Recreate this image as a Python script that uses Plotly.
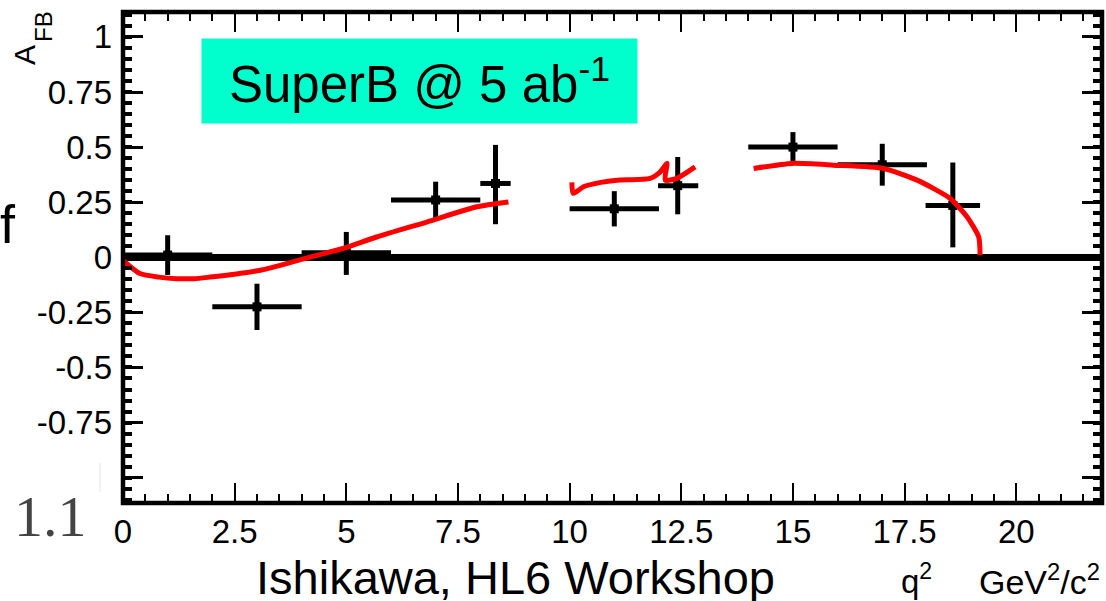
import plotly.graph_objects as go

# ---------------- data ----------------
q2_center = [1.0, 3.0, 5.0, 7.0, 8.34, 11.0, 12.42, 15.0, 17.0, 18.58]
q2_err_minus = [1.0, 1.0, 1.0, 1.0, 0.34, 1.0, 0.44, 1.0, 1.0, 0.61]
q2_err_plus = [1.0, 1.0, 1.0, 1.0, 0.34, 1.0, 0.46, 1.0, 1.0, 0.61]
afb = [0.01, -0.225, 0.02, 0.26, 0.335, 0.22, 0.325, 0.50, 0.42, 0.235]
afb_err_plus = [0.09, 0.105, 0.095, 0.083, 0.175, 0.08, 0.13, 0.068, 0.095, 0.195]
afb_err_minus = [0.09, 0.105, 0.10, 0.083, 0.185, 0.08, 0.13, 0.068, 0.095, 0.19]

# SM prediction (red curve), three pieces
sm1_q2 = [0.0, 0.38, 0.8, 1.2, 1.6, 1.95, 2.5, 3.07, 3.6, 4.19, 4.93, 5.68, 6.8, 7.92, 8.63]
sm1_afb = [-0.014, -0.074, -0.09, -0.097, -0.097, -0.09, -0.077, -0.059, -0.032, 0.001, 0.04, 0.092, 0.16, 0.229, 0.251]
sm2_q2 = [10.05, 10.08, 10.31, 10.7, 11.06, 11.8, 12.03, 12.18, 12.14, 12.4, 12.81]
sm2_afb = [0.34, 0.29, 0.32, 0.34, 0.35, 0.358, 0.388, 0.426, 0.35, 0.358, 0.41]
sm3_q2 = [14.12, 14.98, 15.91, 17.03, 17.78, 18.52, 18.9, 19.16, 19.19]
sm3_afb = [0.403, 0.426, 0.418, 0.403, 0.35, 0.267, 0.183, 0.092, 0.009]

x_tickvals = [0, 2.5, 5, 7.5, 10, 12.5, 15, 17.5, 20]
x_ticktext = ["0", "2.5", "5", "7.5", "10", "12.5", "15", "17.5", "20"]
y_tickvals = [-1, -0.75, -0.5, -0.25, 0, 0.25, 0.5, 0.75, 1]
y_ticktext = ["", "-0.75", "-0.5", "-0.25", "0", "0.25", "0.5", "0.75", "1"]

legend_text = "SuperB @ 5 ab<sup>-1</sup>"
credit_text = "Ishikawa, HL6 Workshop"

# ---------------- layout geometry ----------------
W, H = 1106, 601
L, R, T, B = 123, 4, 12, 98
PW, PH = W - L - R, H - T - B

def px(x):
    return (x - L) / PW

def py(y):
    return 1 - (y - T) / PH

SANS = "Liberation Sans, Arial, sans-serif"

fig = go.Figure()

fig.add_trace(go.Scatter(
    x=q2_center, y=afb, mode="markers",
    marker=dict(symbol="square", size=9, color="black"),
    error_x=dict(type="data", symmetric=False, array=q2_err_plus, arrayminus=q2_err_minus,
                 color="black", thickness=5, width=0),
    error_y=dict(type="data", symmetric=False, array=afb_err_plus, arrayminus=afb_err_minus,
                 color="black", thickness=5, width=0),
    showlegend=False, hoverinfo="skip",
))

for xs, ys in [(sm1_q2, sm1_afb), (sm2_q2, sm2_afb), (sm3_q2, sm3_afb)]:
    fig.add_trace(go.Scatter(
        x=xs, y=ys, mode="lines",
        line=dict(color="#FF0000", width=5, shape="spline", smoothing=0.6),
        showlegend=False, hoverinfo="skip",
    ))

axis_common = dict(
    showgrid=False, showline=False, mirror="ticks",
    ticks="inside", ticklen=20, tickcolor="black",
    tickfont=dict(family=SANS, size=33, color="black"),
    tickmode="array",
)

fig.update_xaxes(
    range=[0, 21.92], tickvals=x_tickvals, ticktext=x_ticktext, tickwidth=2,
    zeroline=False, ticklabelstandoff=6,
    minor=dict(ticks="inside", ticklen=9, tickwidth=2, tickcolor="black", dtick=0.5, tick0=0, showgrid=False),
    **axis_common,
)
fig.update_yaxes(
    range=[-1.115, 1.113], tickvals=y_tickvals, ticktext=y_ticktext, tickwidth=3,
    zeroline=True, zerolinewidth=7, zerolinecolor="black", ticklabelstandoff=10,
    minor=dict(ticks="inside", ticklen=9, tickwidth=3.5, tickcolor="black", dtick=0.05, tick0=0, showgrid=False),
    **axis_common,
)

annotations = [
    dict(text=legend_text, x=px(419), y=py(81), xref="paper", yref="paper",
         xanchor="center", yanchor="middle", showarrow=False,
         width=435, height=84, bgcolor="#00FFCC", borderpad=0,
         font=dict(family=SANS, size=51, color="black")),
    dict(text=credit_text, x=px(515), y=py(577), xref="paper", yref="paper",
         xanchor="center", yanchor="middle", showarrow=False,
         font=dict(family=SANS, size=47, color="black")),
    dict(text="q<sup>2</sup>", x=px(916), y=py(579), xref="paper", yref="paper",
         xanchor="center", yanchor="middle", showarrow=False,
         font=dict(family=SANS, size=33, color="black")),
    dict(text="GeV<sup>2</sup>/c<sup>2</sup>", x=px(1102), y=py(579), xref="paper", yref="paper",
         xanchor="right", yanchor="middle", showarrow=False,
         font=dict(family=SANS, size=34, color="black")),
    dict(text="A", x=px(25), y=py(55), xref="paper", yref="paper", textangle=-90,
         xanchor="center", yanchor="middle", showarrow=False,
         font=dict(family=SANS, size=30, color="black")),
    dict(text="FB", x=px(43), y=py(27), xref="paper", yref="paper", textangle=-90,
         xanchor="center", yanchor="middle", showarrow=False,
         font=dict(family=SANS, size=24, color="black")),
    dict(text="f", x=px(-2), y=py(224), xref="paper", yref="paper",
         xanchor="left", yanchor="middle", showarrow=False,
         font=dict(family=SANS, size=54, color="black")),
    dict(text="1.1", x=px(12), y=py(516), xref="paper", yref="paper",
         xanchor="left", yanchor="middle", showarrow=False,
         font=dict(family="Liberation Serif, Times New Roman, serif", size=58, color="#444444")),
]

shapes = [
    dict(type="rect", xref="paper", yref="paper", x0=0, x1=1, y0=0, y1=1,
         line=dict(color="black", width=4.5), fillcolor="rgba(0,0,0,0)", layer="above"),
    dict(type="line", xref="paper", yref="paper", x0=px(100), x1=px(100), y0=py(463), y1=py(492),
         line=dict(color="#E6E6E6", width=1)),
]

fig.update_layout(
    width=W, height=H, autosize=False,
    margin=dict(l=L, r=R, t=T, b=B, pad=0),
    paper_bgcolor="white", plot_bgcolor="white",
    annotations=annotations, shapes=shapes,
    showlegend=False,
)

fig.write_html("out.html")
